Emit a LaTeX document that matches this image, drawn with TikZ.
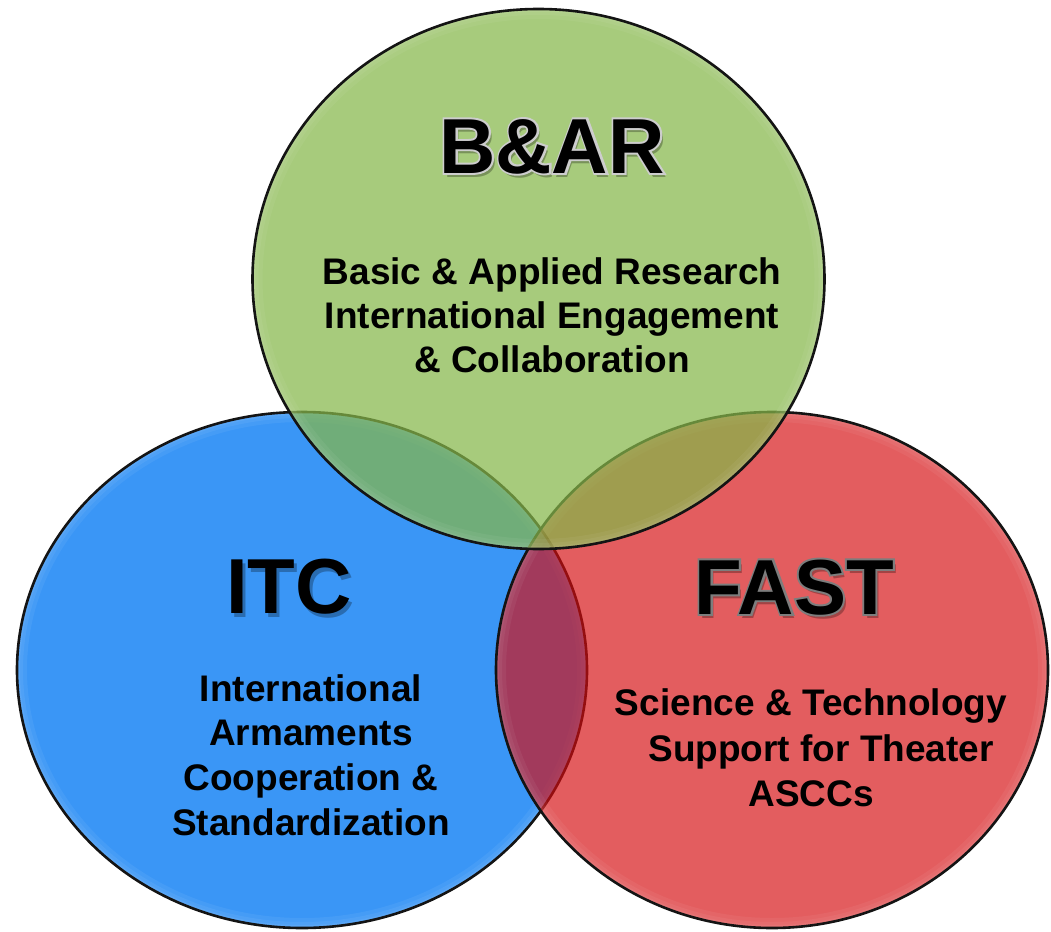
\documentclass[tikz,border=0pt]{standalone}
\usepackage{fontspec}
\setmainfont{Liberation Sans}
\newfontfamily\halofont[FakeBold=5]{Liberation Sans Bold}
\usetikzlibrary{calc}

\definecolor{itcblue}{RGB}{58,150,246}
\definecolor{fastred}{RGB}{214,12,15}
\definecolor{bargreen}{RGB}{134,183,74}
\definecolor{barhalo}{RGB}{205,205,205}
\definecolor{fasthalo}{RGB}{125,125,125}
\definecolor{ringline}{RGB}{20,20,20}

\begin{document}
\begin{tikzpicture}[x=1pt,y=-1pt,
  setring/.style={line width=2.6pt, draw=ringline},
  bodytext/.style={font=\fontsize{37}{44}\selectfont\bfseries, inner sep=0pt, anchor=base, text=black},
  titletext/.style={font=\fontsize{78}{78}\selectfont\bfseries, inner sep=0pt, anchor=base},
  titlehalo/.style={font=\halofont\fontsize{78}{78}\selectfont, inner sep=0pt, anchor=base},
  titleshadow/.style={titletext, text=black, text opacity=0.28},
  itcshape/.style={x radius=285pt, y radius=258pt},
  fastshape/.style={x radius=276pt, y radius=258pt},
  barshape/.style={x radius=286pt, y radius=270pt},
]
\useasboundingbox (0,0) rectangle (1051,931);
\fill[white] (0,0) rectangle (1051,931);

\coordinate (itcC) at (302,670);
\coordinate (fastC) at (772,670);
\coordinate (barC) at (538.5,279);

% ITC set (bottom layer)
\fill[itcblue] (itcC) ellipse [itcshape];
\begin{scope}
  \clip (itcC) ellipse [itcshape];
  \foreach \w in {20,12,6}
    \draw[white, opacity=0.06, line width=\w pt] (itcC) ellipse [itcshape];
\end{scope}
\draw[setring] (itcC) ellipse [itcshape];

% FAST set (translucent, over ITC)
\fill[fastred, fill opacity=0.667] (fastC) ellipse [fastshape];
\begin{scope}
  \clip (fastC) ellipse [fastshape];
  \foreach \w in {20,12,6}
    \draw[white, opacity=0.05, line width=\w pt] (fastC) ellipse [fastshape];
\end{scope}
\draw[setring] (fastC) ellipse [fastshape];

% B&AR set (translucent, top layer)
\fill[bargreen, fill opacity=0.72] (barC) ellipse [barshape];
\begin{scope}
  \clip (barC) ellipse [barshape];
  \foreach \w in {20,12,6}
    \draw[white, opacity=0.05, line width=\w pt] (barC) ellipse [barshape];
\end{scope}
\draw[setring] (barC) ellipse [barshape];

% Titles: drop shadow, grey halo, black lettering
\coordinate (barT) at (552,173);
\coordinate (itcT) at (289,613);
\coordinate (fastT) at (794,614);

\node[titleshadow] (bar-shadow) at ($(barT)+(3,4)$) {B\&AR};
\node[titleshadow] (itc-shadow) at ($(itcT)+(3,4)$) {ITC};
\node[titleshadow] (fast-shadow) at ($(fastT)+(3,4)$) {FAST};

\node[titlehalo, text=barhalo] (bar-halo) at (barT) {B\&AR};
\node[titlehalo, text=fasthalo] (fast-halo) at (fastT) {FAST};

\node[titletext, text=black] (bar) at (barT) {B\&AR};
\node[titletext, text=black] (itc) at (itcT) {ITC};
\node[titletext, text=black] (fast) at (fastT) {FAST};

% Descriptions
\node[bodytext] (bar-l1) at (552,284) {Basic \& Applied Research};
\node[bodytext] (bar-l2) at (552,328) {International Engagement};
\node[bodytext] (bar-l3) at (552,372) {\& Collaboration};

\node[bodytext] (itc-l1) at (311,701) {International};
\node[bodytext] (itc-l2) at (311,745) {Armaments};
\node[bodytext] (itc-l3) at (311,790) {Cooperation \&};
\node[bodytext] (itc-l4) at (311,835) {Standardization};

\node[bodytext] (fast-l1) at (811,715) {Science \& Technology};
\node[bodytext] (fast-l2) at (821,761) {Support for Theater};
\node[bodytext] (fast-l3) at (811,806) {ASCCs};
\end{tikzpicture}
\end{document}
